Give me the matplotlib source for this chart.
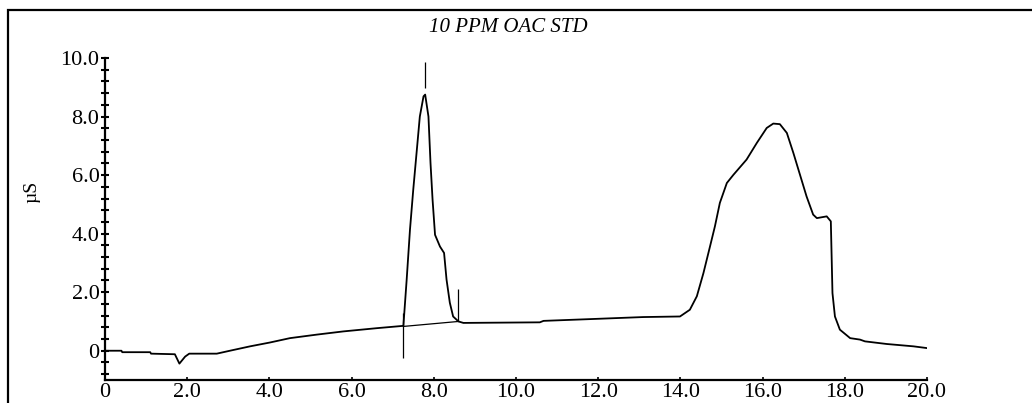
import numpy as np
import matplotlib.pyplot as plt
from matplotlib.patches import Rectangle
from matplotlib.ticker import MultipleLocator

# chromatogram trace (min, uS)
t = [0.0, 0.4, 0.42, 1.1, 1.12, 1.7, 1.81, 1.95, 2.05, 2.72, 3.04, 3.53, 4.01, 4.5,
     5.15, 5.8, 6.61, 7.26, 7.34, 7.42, 7.50, 7.58, 7.66, 7.75, 7.79, 7.87, 7.92,
     7.97, 8.03, 8.15, 8.25, 8.31, 8.39, 8.47, 8.6, 8.72, 10.58, 10.67, 11.8, 13.09,
     13.99, 14.23, 14.4, 14.56, 14.72, 14.84, 14.96, 15.13, 15.29, 15.61, 15.86,
     16.1, 16.26, 16.42, 16.59, 16.75, 16.91, 17.07, 17.23, 17.32, 17.56, 17.66,
     17.7, 17.76, 17.88, 18.13, 18.37, 18.49, 19.02, 19.67, 20.0]
uS = [0.0, 0.0, -0.05, -0.05, -0.1, -0.12, -0.44, -0.2, -0.1, -0.1, 0.0, 0.15, 0.28,
      0.43, 0.55, 0.66, 0.77, 0.85, 2.43, 4.13, 5.5, 6.75, 8.0, 8.69, 8.75, 8.0,
      6.41, 5.16, 3.96, 3.56, 3.34, 2.43, 1.64, 1.17, 1.0, 0.95, 0.97, 1.02, 1.08,
      1.15, 1.17, 1.4, 1.86, 2.65, 3.56, 4.25, 5.05, 5.73, 6.01, 6.53, 7.1, 7.61,
      7.76, 7.74, 7.44, 6.75, 6.01, 5.27, 4.65, 4.53, 4.59, 4.42, 1.97, 1.17, 0.72,
      0.43, 0.38, 0.32, 0.23, 0.15, 0.09]

# integration baseline under first peak
base_t = [7.26, 8.6]
base_y = [0.83, 1.0]

# peak markers: start, apex, end
mark_t = [7.26, 7.79, 8.58]
mark_lo = [-0.24, 8.97, 1.0]
mark_hi = [1.3, 9.88, 2.12]

yticks = [0, 2, 4, 6, 8, 10]
ylabels = ['0', '2.0', '4.0', '6.0', '8.0', '10.0']
xticks = [0, 2, 4, 6, 8, 10, 12, 14, 16, 18, 20]
xlabels = ['0', '2.0', '4.0', '6.0', '8.0', '10.0', '12.0', '14.0', '16.0', '18.0', '20.0']

fig = plt.figure(figsize=(10.32, 4.03), dpi=100)
ax = fig.add_axes([105/1032, 23/403, 822/1032, 322/403])

ax.plot(t, uS, color='black', lw=1.3)
ax.plot(base_t, base_y, color='black', lw=0.9)
ax.vlines(mark_t, mark_lo, mark_hi, color='black', lw=0.9)

ax.set_xlim(0, 20)
ax.set_ylim(-1, 10)
ax.set_xticks(xticks)
ax.set_xticklabels(xlabels, family='Liberation Serif', fontsize=16)
ax.set_yticks(yticks)
ax.set_yticklabels(ylabels, family='Liberation Serif', fontsize=16)
ax.yaxis.set_minor_locator(MultipleLocator(0.4))

for s in ['top', 'right']:
    ax.spines[s].set_visible(False)
for s in ['left', 'bottom']:
    ax.spines[s].set_linewidth(1.6)

ax.tick_params(axis='y', which='both', direction='inout', length=6, width=1.5, pad=1)
ax.tick_params(axis='x', direction='in', length=2.5, width=1.2, pad=2)

fig.text(508/1032, 1 - 27/403, '10 PPM OAC STD', ha='center', va='center',
         family='Liberation Serif', style='italic', fontsize=15)
fig.text(32/1032, 1 - 192/403, 'µS', ha='center', va='center', rotation=90,
         family='Liberation Serif', fontsize=14)

# outer frame of the instrument report
fig.patches.append(Rectangle((8/1032, -0.1), 1.2, 1.1 - 10/403, transform=fig.transFigure,
                             fill=False, edgecolor='black', lw=1.6))

fig.savefig('out.png', dpi=100)
